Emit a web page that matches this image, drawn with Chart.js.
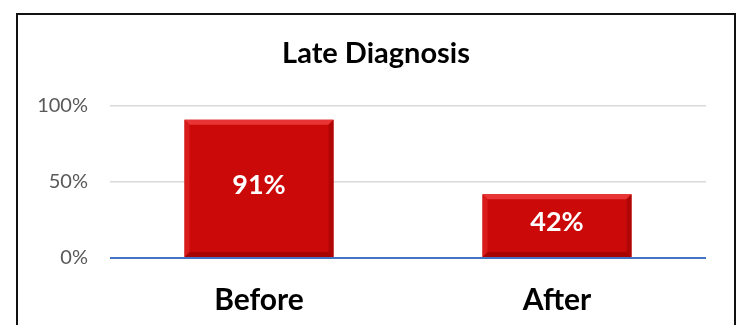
<!DOCTYPE html>
<html>
<head>
<meta charset="utf-8">
<script src="https://cdn.jsdelivr.net/npm/chart.js@4"></script>
<style>
  html, body { margin: 0; padding: 0; background: #fff; }
  #wrap { position: relative; width: 744px; height: 325px; overflow: hidden; }
  #frame {
    position: absolute; left: 16px; top: 13px; width: 716px; height: 400px;
    border: 2px solid #111; pointer-events: none;
  }
</style>
</head>
<body>
<div id="wrap">
  <canvas id="lateChart" width="744" height="325"></canvas>
  <div id="frame"></div>
</div>
<script>
// chart data
const categories = ["Before", "After"];
const lateShare = [0.91, 0.42];
const yTicks = [0, 0.5, 1];
const chartTitle = "Late Diagnosis";

const FONT = "Lato, 'Open Sans', sans-serif";

// bevelled bars, like the excel style
const bevelPlugin = {
  id: "bevel",
  afterDatasetsDraw(chart) {
    const c = chart.ctx;
    const b = 5;
    chart.getDatasetMeta(0).data.forEach((bar) => {
      const p = bar.getProps(["x", "y", "base", "width"], true);
      const l = p.x - p.width / 2, r = p.x + p.width / 2;
      const t = p.y, bot = p.base;
      const poly = (pts, col) => {
        c.beginPath();
        c.moveTo(pts[0][0], pts[0][1]);
        pts.slice(1).forEach((q) => c.lineTo(q[0], q[1]));
        c.closePath();
        c.fillStyle = col;
        c.fill();
      };
      c.save();
      poly([[l, t], [r, t], [r - b, t + b], [l + b, t + b]], "#E83434");
      poly([[l, bot], [r, bot], [r - b, bot - b], [l + b, bot - b]], "#A80404");
      poly([[l, t], [l + b, t + b], [l + b, bot - b], [l, bot]], "#D81C1C");
      poly([[r, t], [r - b, t + b], [r - b, bot - b], [r, bot]], "#B00606");
      c.restore();
    });
  },
};

// value labels in the middle of the bars
const valueLabels = {
  id: "valueLabels",
  afterDatasetsDraw(chart) {
    const c = chart.ctx;
    c.save();
    c.fillStyle = "#ffffff";
    c.font = "bold 27px " + FONT;
    c.textAlign = "center";
    c.textBaseline = "middle";
    chart.getDatasetMeta(0).data.forEach((bar, i) => {
      const p = bar.getProps(["x", "y", "base"], true);
      c.fillText(Math.round(lateShare[i] * 100) + "%", p.x, (p.y + p.base) / 2 - 3);
    });
    c.restore();
  },
};

// title centred on the framed box, not on the plot
const boxTitle = {
  id: "boxTitle",
  afterDraw(chart) {
    const c = chart.ctx;
    c.save();
    c.fillStyle = "#000";
    c.font = "bold 29px " + FONT;
    c.textAlign = "center";
    c.textBaseline = "middle";
    c.fillText(chartTitle, 376, 54);
    c.restore();
  },
};

const ctx = document.getElementById("lateChart").getContext("2d");
new Chart(ctx, {
  type: "bar",
  data: {
    labels: categories,
    datasets: [
      {
        data: lateShare,
        backgroundColor: "#CC0909",
        borderWidth: 0,
        categoryPercentage: 1,
        barPercentage: 0.5,
      },
    ],
  },
  options: {
    responsive: false,
    animation: false,
    layout: { padding: { left: 0, right: 38, top: 106, bottom: 0 } },
    plugins: {
      legend: { display: false },
      tooltip: { enabled: false },
      title: { display: false },
    },
    scales: {
      x: {
        grid: { display: false, drawTicks: false },
        border: { display: false },
        ticks: {
          color: "#000",
          padding: 24,
          font: { family: FONT, size: 30, weight: "bold" },
        },
        afterFit(scale) {
          scale.height = 67;
        },
      },
      y: {
        min: 0,
        max: 1,
        afterBuildTicks(scale) {
          scale.ticks = yTicks.map((v) => ({ value: v }));
        },
        grid: {
          drawTicks: false,
          color: (c) => (c.tick && c.tick.value === 0 ? "#4472C4" : "#D9D9D9"),
          lineWidth: (c) => (c.tick && c.tick.value === 0 ? 2 : 1.5),
        },
        border: { display: false },
        ticks: {
          color: "#595959",
          padding: 22,
          font: { family: FONT, size: 20 },
          callback: (v) => Math.round(v * 100) + "%",
        },
        afterFit(scale) {
          scale.width = 110;
        },
      },
    },
  },
  plugins: [bevelPlugin, valueLabels, boxTitle],
});
</script>
</body>
</html>
